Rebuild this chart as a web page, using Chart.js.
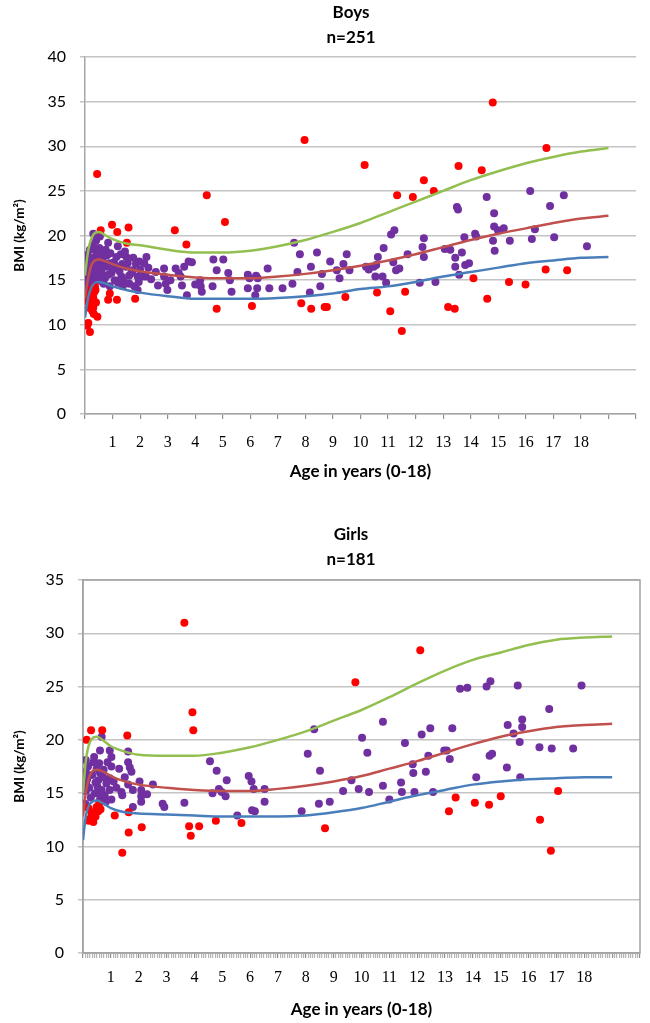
<!DOCTYPE html>
<html>
<head>
<meta charset="utf-8">
<title>BMI by age</title>
<script src="https://cdn.jsdelivr.net/npm/chart.js@4.4.1/dist/chart.umd.min.js"></script>
<style>
  body { margin: 0; background: #fff; }
  .chart-box { position: relative; width: 650px; }
  #boysBox { height: 500px; }
  #girlsBox { height: 503px; margin-top: 20px; }
</style>
</head>
<body>
<div class="chart-box" id="boysBox"><canvas id="boysChart"></canvas></div>
<div class="chart-box" id="girlsBox"><canvas id="girlsChart"></canvas></div>
<script>
// reference curves (3rd, 50th, 97th percentile)
const curveAges = [0, 0.1, 0.25, 0.5, 0.75, 1, 1.5, 2, 3, 4, 5, 6, 7, 8, 9, 10, 11, 12, 13, 14, 15, 16, 17, 18, 19];
const boysP97 = [15.5, 18.0, 19.8, 20.4, 20.0, 19.6, 19.1, 18.9, 18.4, 18.1, 18.1, 18.3, 18.8, 19.5, 20.4, 21.4, 22.6, 23.8, 25.0, 26.2, 27.2, 28.1, 28.8, 29.4, 29.8];
const boysP50 = [13.0, 15.0, 16.8, 17.3, 17.1, 16.8, 16.3, 16.0, 15.6, 15.3, 15.2, 15.2, 15.4, 15.7, 16.1, 16.6, 17.2, 17.9, 18.7, 19.5, 20.2, 20.8, 21.4, 21.9, 22.2];
const boysP3 = [10.8, 12.8, 14.3, 14.8, 14.6, 14.3, 13.9, 13.6, 13.2, 12.9, 12.9, 12.9, 13.0, 13.2, 13.5, 14.0, 14.3, 14.8, 15.4, 15.9, 16.4, 16.9, 17.2, 17.5, 17.6];
const girlsP97 = [15.0, 18.0, 19.8, 20.3, 19.9, 19.4, 18.9, 18.6, 18.5, 18.5, 18.8, 19.3, 20.0, 20.8, 21.8, 22.8, 24.0, 25.3, 26.5, 27.5, 28.2, 28.9, 29.4, 29.6, 29.7];
const girlsP50 = [12.8, 15.0, 16.7, 17.2, 17.0, 16.6, 16.1, 15.8, 15.5, 15.3, 15.2, 15.2, 15.4, 15.7, 16.1, 16.6, 17.3, 18.0, 18.8, 19.6, 20.3, 20.8, 21.2, 21.4, 21.5];
const girlsP3 = [10.6, 12.8, 14.0, 14.3, 14.0, 13.6, 13.2, 13.1, 13.0, 12.9, 12.8, 12.8, 12.8, 12.9, 13.2, 13.6, 14.2, 14.8, 15.3, 15.8, 16.1, 16.3, 16.4, 16.5, 16.5];

// boys inside the reference range (purple)
const boysInAge = [0.30, 0.54, 0.84, 1.19, 1.14, 1.50, 1.97, 2.23, 0.06, 0.02, 0.04, 0.18, 0.24, 0.42, 0.66, 0.48, 0.30, 0.60, 0.78, 0.96,
  0.18, 0.42, 0.72, 1.08, 1.32, 1.49, 1.73, 1.91, 2.09, 1.61, 1.79, 1.37, 0.90, 1.91, 2.21, 0.06, 2.57, 2.87, 2.87, 2.93,
  2.99, 3.29, 3.40, 3.47, 3.52, 3.70, 3.76, 3.88, 4.18, 4.20, 4.24, 4.66, 5.02, 4.78, 5.20, 5.26, 4.63, 5.32, 5.91, 5.97,
  6.21, 6.27, 6.63, 6.69, 5.91, 6.25, 6.18, 7.17, 7.53, 7.59, 0.10, 0.12, 0.20, 0.26, 0.35, 0.38, 0.50, 0.55, 0.65, 0.70,
  0.80, 0.85, 1.00, 1.05, 1.25, 1.40, 0.15, 0.10, 0.33, 1.60, 1.30, 2.00, 2.30, 1.85, 7.80, 8.20, 8.42, 8.16, 8.54, 8.60,
  8.90, 9.14, 9.24, 9.38, 9.50, 9.60, 10.20, 10.30, 10.48, 10.57, 10.63, 10.54, 10.84, 10.80, 10.93, 11.11, 11.23, 11.19, 11.29, 11.41,
  11.71, 12.15, 12.25, 12.30, 12.30, 12.72, 13.06, 13.26, 13.44, 13.44, 13.58, 13.68, 13.80, 13.94, 13.50, 13.54, 13.77, 14.16, 14.20, 14.58,
  14.85, 14.85, 14.99, 15.20, 14.81, 14.87, 15.42, 16.16, 16.22, 16.33, 16.88, 17.03, 17.38, 18.22, 7.71,
  0.05, 0.08, 0.12, 0.16, 0.22, 0.28, 0.34, 0.40, 0.45, 0.52, 0.58, 0.62, 0.68, 0.75, 0.88, 0.92, 1.10, 1.20, 1.35, 1.45,
  1.55, 1.68, 1.75, 1.95, 2.15, 2.40, 2.65, 3.10, 3.60, 4.00];
const boysInBmi = [20.2, 19.9, 19.2, 18.8, 17.6, 17.6, 17.1, 17.6, 16.5, 15.4, 14.3, 18.4, 17.3, 18.0, 17.6, 16.9, 16.1, 15.9, 16.5, 15.8,
  15.4, 15.0, 15.2, 15.0, 15.4, 16.5, 16.1, 15.4, 15.4, 14.6, 14.3, 14.3, 14.3, 13.9, 15.4, 13.5, 15.9, 16.3, 15.4, 14.6,
  13.9, 16.3, 15.8, 15.4, 14.4, 13.3, 17.1, 17.0, 15.0, 14.3, 13.7, 17.3, 17.3, 16.1, 15.8, 15.0, 14.3, 13.7, 15.6, 15.2,
  15.5, 15.2, 16.3, 14.1, 14.1, 14.1, 13.3, 14.1, 14.6, 19.2, 17.0, 15.9, 16.6, 14.8, 17.5, 15.6, 17.3, 16.4, 15.4, 16.9,
  17.8, 15.6, 16.2, 17.0, 16.0, 15.0, 14.6, 16.0, 18.6, 15.5, 17.9, 16.2, 16.4, 16.8, 17.9, 16.5, 18.1, 13.6, 14.3, 15.7,
  17.1, 16.1, 15.2, 16.8, 17.9, 16.1, 16.5, 16.2, 16.5, 16.7, 17.6, 15.4, 18.6, 15.4, 14.7, 20.1, 20.6, 17.0, 16.1, 16.3,
  17.9, 14.7, 18.7, 19.7, 17.6, 14.8, 18.5, 18.4, 17.5, 16.5, 15.6, 18.1, 16.7, 16.9, 23.2, 22.9, 19.8, 20.2, 19.9, 24.3,
  22.5, 21.0, 20.6, 20.8, 19.4, 18.3, 19.4, 25.0, 19.6, 20.7, 23.3, 19.8, 24.5, 18.8, 15.9,
  17.8, 15.0, 14.0, 17.6, 15.8, 18.9, 16.6, 19.4, 16.2, 18.6, 14.9, 18.2, 14.6, 18.4, 16.9, 18.0, 16.6, 14.7, 16.8, 18.2,
  16.9, 15.8, 17.5, 14.8, 16.9, 15.1, 14.4, 15.0, 16.5, 14.5];

// boys outside the reference range (red)
const boysOutAge = [0.44, 0.57, 0.98, 1.17, 1.58, 1.52, 0.90, 0.84, 1.16, 1.82, 0.45, 0.08, 0.12, 0.18, 0.10, 0.15, 0.20, 0.24, 0.22, 0.28,
  0.30, 0.33, 0.36, 0.27, 0.32, 0.38, 0.40, 0.14, 0.25, 0.30, 3.26, 3.68, 4.42, 5.08, 4.78, 6.06, 7.97, 7.85, 8.21, 8.70,
  8.78, 9.45, 10.15, 13.56, 14.40, 16.75, 12.30, 12.66, 11.33, 11.90, 14.80, 10.60, 11.08, 11.62, 11.50, 13.18, 13.42, 14.10, 14.60, 15.39,
  15.99, 16.72, 17.50];
const boysOutBmi = [26.9, 20.6, 21.2, 20.4, 20.9, 19.2, 13.5, 12.8, 12.8, 12.9, 10.9, 9.9, 10.2, 9.2, 12.6, 11.9, 12.3, 12.0, 13.1, 12.7,
  13.0, 13.6, 14.3, 11.5, 11.2, 13.9, 12.5, 13.4, 14.0, 11.9, 20.6, 19.0, 24.5, 21.5, 11.8, 12.1, 30.7, 12.4, 11.8, 12.0,
  12.0, 13.1, 27.9, 27.8, 27.3, 29.8, 26.2, 25.0, 24.5, 24.3, 34.9, 13.6, 11.5, 13.7, 9.3, 12.0, 11.8, 15.2, 12.9, 14.8,
  14.5, 16.2, 16.1];

// girls inside the reference range (purple)
const girlsInAge = [0.10, 0.37, 0.10, 0.15, 0.12, 0.10, 0.08, 0.49, 0.61, 0.55, 0.72, 0.84, 0.67, 0.43, 0.78, 0.96, 1.02, 0.61, 0.49, 0.67,
  0.61, 0.96, 1.02, 1.02, 0.96, 1.38, 1.41, 1.62, 1.62, 1.68, 1.74, 1.62, 1.79, 2.03, 2.09, 2.09, 2.09, 1.79, 2.51, 2.86,
  2.92, 3.64, 4.56, 4.80, 5.16, 4.65, 4.88, 4.98, 5.12, 5.54, 5.95, 6.05, 6.13, 6.07, 6.17, 6.52, 6.52, 7.85, 8.07, 8.30,
  8.51, 8.47, 8.86, 9.34, 9.64, 9.90, 10.02, 10.21, 10.27, 10.77, 10.77, 11.00, 11.42, 11.45, 11.56, 11.84, 11.86, 11.90, 12.16, 12.31,
  12.40, 12.47, 12.57, 12.97, 13.06, 13.17, 13.26, 13.54, 13.80, 14.12, 14.49, 14.63, 14.60, 14.69, 15.22, 15.25, 15.46, 15.61, 15.68, 15.70,
  15.77, 15.77, 16.39, 16.74, 16.83, 17.60, 17.90,
  0.05, 0.18, 0.22, 0.28, 0.33, 0.40, 0.45, 0.52, 0.58, 0.64, 0.74, 0.82, 0.88, 1.10, 1.20, 1.30, 1.50, 2.30];
const girlsInBmi = [18.1, 17.9, 17.0, 16.3, 15.8, 15.2, 14.0, 17.3, 16.9, 16.2, 16.5, 15.9, 15.3, 15.0, 14.8, 15.3, 14.4, 14.4, 13.6, 20.3,
  19.0, 19.0, 18.4, 17.5, 16.4, 15.1, 14.8, 18.9, 17.9, 17.4, 17.0, 15.8, 15.3, 16.1, 15.3, 14.7, 14.2, 13.7, 15.8, 14.0,
  13.7, 14.1, 18.0, 17.1, 16.2, 15.0, 15.4, 15.1, 14.7, 12.9, 16.6, 16.1, 15.4, 13.4, 13.3, 15.4, 14.2, 13.3, 18.7, 21.0,
  17.1, 14.0, 14.2, 15.2, 16.2, 15.4, 20.2, 18.8, 15.1, 21.7, 15.7, 14.4, 16.0, 15.1, 19.7, 17.7, 16.9, 15.1, 20.5, 17.0,
  18.5, 21.1, 15.1, 19.0, 19.0, 18.2, 21.1, 24.8, 24.9, 16.5, 25.0, 25.5, 18.5, 18.7, 17.4, 21.4, 20.6, 25.1, 19.8, 16.5,
  21.2, 21.9, 19.3, 22.9, 19.2, 19.2, 25.1,
  16.8, 17.5, 15.5, 14.6, 16.7, 18.4, 16.0, 15.6, 17.8, 14.8, 17.2, 14.2, 17.9, 16.1, 15.5, 17.3, 16.5, 14.9];

// girls outside the reference range (red)
const girlsOutAge = [0.13, 0.29, 0.69, 1.59, 3.64, 3.93, 3.96, 0.19, 0.25, 0.37, 0.49, 0.58, 0.63, 1.14, 1.41, 1.64, 1.64, 2.11, 3.81, 3.87,
  4.17, 4.77, 5.69, 8.69, 9.78, 12.11, 13.14, 13.38, 14.07, 14.58, 15.00, 16.41, 17.06, 16.80, 0.30, 0.45, 0.55, 0.20];
const girlsOutBmi = [20.0, 20.9, 20.9, 20.4, 31.0, 22.6, 20.9, 13.6, 12.6, 12.3, 13.7, 14.0, 13.5, 12.9, 9.4, 13.2, 11.3, 11.8, 11.9, 11.0,
  11.9, 12.4, 12.2, 11.7, 25.4, 28.4, 13.3, 14.6, 14.1, 13.9, 14.7, 12.5, 15.2, 9.6, 13.2, 12.8, 13.3, 12.4];

const ageTickLabels = ['1', '2', '3', '4', '5', '6', '7', '8', '9', '10', '11', '12', '13', '14', '15', '16', '17', '18'];
const boysBmiTicks = [0, 5, 10, 15, 20, 25, 30, 35, 40];
const girlsBmiTicks = [0, 5, 10, 15, 20, 25, 30, 35];

const pairs = (xs, ys) => xs.map((x, i) => ({ x: x, y: ys[i] }));
const isWholeYear = (v) => Math.abs(v - Math.round(v)) < 1e-6;

const headingPlugin = {
  id: 'heading',
  afterDraw(chart, args, opts) {
    const ctx = chart.ctx;
    ctx.save();
    ctx.fillStyle = '#000';
    ctx.font = 'bold 17px Lato';
    ctx.textAlign = 'center';
    ctx.textBaseline = 'middle';
    opts.lines.forEach((line, i) => ctx.fillText(line, opts.x, opts.y + i * 25));
    ctx.restore();
  }
};

const plotFramePlugin = {
  id: 'plotFrame',
  beforeDatasetsDraw(chart, args, opts) {
    if (!opts.show) return;
    const { ctx, chartArea } = chart;
    ctx.save();
    ctx.strokeStyle = '#A3A3A3';
    ctx.lineWidth = 1.5;
    ctx.strokeRect(chartArea.left, chartArea.top, chartArea.right - chartArea.left, chartArea.bottom - chartArea.top);
    ctx.restore();
  }
};

function makeChart(canvasId, s) {
  const ctx = document.getElementById(canvasId).getContext('2d');

  const curve = (values, color) => ({
    data: pairs(curveAges, values),
    showLine: true,
    borderColor: color,
    borderWidth: 2.5,
    pointRadius: 0,
    cubicInterpolationMode: 'monotone',
  });
  const dots = (xs, ys, color) => ({
    data: pairs(xs, ys),
    showLine: false,
    backgroundColor: color,
    borderWidth: 0,
    pointRadius: 4,
  });

  return new Chart(ctx, {
    type: 'scatter',
    data: {
      datasets: [
        curve(s.p97, '#93BF50'),
        curve(s.p50, '#C0504D'),
        curve(s.p3, '#4A7EBB'),
        dots(s.outAge, s.outBmi, '#FF0000'),
        dots(s.inAge, s.inBmi, '#7030A0'),
      ],
    },
    options: {
      responsive: true,
      maintainAspectRatio: false,
      animation: false,
      layout: { padding: { top: s.plotTop, right: s.rightPad, bottom: 0, left: 0 } },
      plugins: {
        legend: { display: false },
        tooltip: { enabled: false },
        heading: { lines: s.heading, x: 351, y: s.headingY },
        plotFrame: { show: s.frame },
      },
      scales: {
        x: {
          type: 'linear',
          min: 0,
          max: 20,
          afterFit: (scale) => { scale.height = s.xAxisHeight; },
          afterBuildTicks: (scale) => {
            const ticks = [];
            for (let i = 0; i <= 20 * s.ticksPerYear; i++) ticks.push({ value: i / s.ticksPerYear });
            scale.ticks = ticks;
          },
          grid: {
            drawOnChartArea: false,
            tickLength: 5,
            lineWidth: 1.2,
            color: (c) => (c.tick && isWholeYear(c.tick.value) ? '#8F8F8F' : '#B5B5B5'),
          },
          border: { color: '#A6A6A6', width: 1.5 },
          ticks: {
            autoSkip: false,
            maxRotation: 0,
            padding: s.xTickPad,
            color: '#000',
            font: { family: '"Liberation Serif", serif', size: 16 },
            callback: (v) => {
              const yr = Math.round(v);
              return isWholeYear(v) && yr >= 1 && yr <= ageTickLabels.length ? ageTickLabels[yr - 1] : '';
            },
          },
          title: {
            display: true,
            text: 'Age in years (0-18)',
            color: '#000',
            font: { family: 'Lato', size: 17, weight: 'bold' },
            padding: { top: 0, bottom: s.xTitlePad },
          },
        },
        y: {
          min: s.bmiTicks[0],
          max: s.bmiTicks[s.bmiTicks.length - 1],
          afterFit: (scale) => { scale.width = s.plotLeft; },
          grid: { color: '#C4C4C4', lineWidth: 1.5, tickLength: 5 },
          border: { color: '#A6A6A6', width: 1.5 },
          ticks: {
            stepSize: 5,
            padding: 14,
            color: '#000',
            font: { family: 'Lato', size: 16 },
          },
          title: {
            display: true,
            text: 'BMI (kg/m²)',
            color: '#000',
            font: { family: 'Lato', size: 13.5, weight: 'bold' },
            padding: { top: 12, bottom: 0 },
          },
        },
      },
    },
    plugins: [headingPlugin, plotFramePlugin],
  });
}

makeChart('boysChart', {
  heading: ['Boys', 'n=251'], headingY: 13,
  p97: boysP97, p50: boysP50, p3: boysP3,
  inAge: boysInAge, inBmi: boysInBmi, outAge: boysOutAge, outBmi: boysOutBmi,
  bmiTicks: boysBmiTicks,
  plotTop: 57, plotLeft: 85, rightPad: 7, xAxisHeight: 86, xTickPad: 14, xTitlePad: 18,
  ticksPerYear: 1, frame: false,
});

makeChart('girlsChart', {
  heading: ['Girls', 'n=181'], headingY: 15,
  p97: girlsP97, p50: girlsP50, p3: girlsP3,
  inAge: girlsInAge, inBmi: girlsInBmi, outAge: girlsOutAge, outBmi: girlsOutBmi,
  bmiTicks: girlsBmiTicks,
  plotTop: 60, plotLeft: 83, rightPad: 5, xAxisHeight: 70, xTickPad: 10, xTitlePad: 3,
  ticksPerYear: 12, frame: true,
});
</script>
</body>
</html>
